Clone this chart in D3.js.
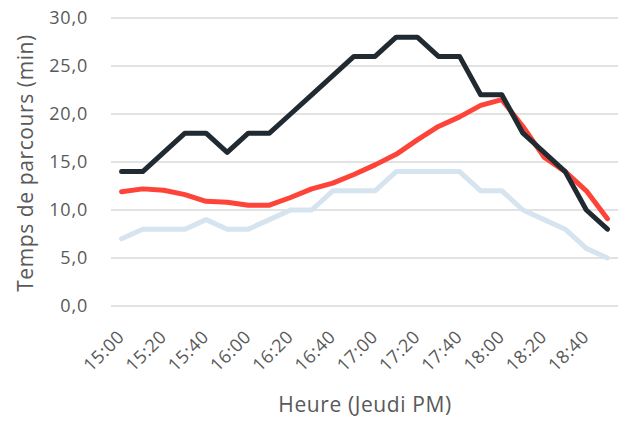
<!DOCTYPE html>
<html>
<head>
<meta charset="utf-8">
<script src="https://cdn.jsdelivr.net/npm/d3@7/dist/d3.min.js"></script>
<style>
  html, body { margin: 0; padding: 0; background: #fff; }
  svg { display: block; }
  text { font-family: "Open Sans", sans-serif; fill: #595959; }
</style>
</head>
<body>
<svg id="chart" width="624" height="425"></svg>
<script>
// ---- data ----
const categories = ["15:00","15:10","15:20","15:30","15:40","15:50","16:00","16:10","16:20","16:30","16:40","16:50",
                    "17:00","17:10","17:20","17:30","17:40","17:50","18:00","18:10","18:20","18:30","18:40","18:50"];
const seriesDark  = [14,14,16,18,18,16,18,18,20,22,24,26,26,28,28,26,26,22,22,18,16,14,10,8];
const seriesRed   = [11.9,12.2,12.05,11.6,10.9,10.8,10.5,10.5,11.3,12.2,12.8,13.7,14.7,15.8,17.3,18.7,19.7,20.9,21.5,18.7,15.5,14.0,12.0,9.1];
const seriesLight = [7,8,8,8,9,8,8,9,10,10,12,12,12,14,14,14,14,12,12,10,9,8,6,5];
const yTicks = [0,5,10,15,20,25,30];
const xTickLabels = ["15:00","15:20","15:40","16:00","16:20","16:40","17:00","17:20","17:40","18:00","18:20","18:40"];
const yTitle = "Temps de parcours (min)";
const xTitle = "Heure (Jeudi PM)";

// ---- layout ----
const svg = d3.select("#chart");
const plot = { left: 111, right: 618, top: 18, bottom: 306 };

const x = d3.scaleBand().domain(categories).range([plot.left, plot.right]);
const y = d3.scaleLinear().domain([0, 30]).range([plot.bottom, plot.top]);
const cx = d => x(d) + x.bandwidth() / 2;

// gridlines
svg.append("g").selectAll("line").data(yTicks).join("line")
  .attr("x1", plot.left).attr("x2", plot.right)
  .attr("y1", d => y(d)).attr("y2", d => y(d))
  .attr("stroke", "#d9d9d9").attr("stroke-width", 1.3);

// y axis labels
const fmt = d => d3.format(".1f")(d).replace(".", ",");
svg.append("g").selectAll("text").data(yTicks).join("text")
  .attr("x", 88).attr("y", d => y(d))
  .attr("dy", "0.35em")
  .attr("text-anchor", "end")
  .style("font-size", "18px")
  .style("letter-spacing", "0.8px")
  .text(fmt);

// x axis labels
svg.append("g").selectAll("text").data(xTickLabels).join("text")
  .attr("text-anchor", "end")
  .style("font-size", "18px")
  .style("letter-spacing", "0.6px")
  .attr("transform", d => `translate(${cx(d) + 4},${plot.bottom + 32}) rotate(-45)`)
  .text(d => d);

// axis titles
svg.append("text")
  .attr("x", 365).attr("y", 412)
  .attr("text-anchor", "middle")
  .style("font-size", "21px")
  .style("letter-spacing", "0.6px")
  .text(xTitle);

svg.append("text")
  .attr("transform", `translate(33,${163}) rotate(-90)`)
  .attr("text-anchor", "middle")
  .style("font-size", "21px")
  .style("letter-spacing", "0.6px")
  .text(yTitle);

// lines
const line = d3.line().x((d, i) => cx(categories[i])).y(d => y(d));
const series = [
  { values: seriesLight, color: "#d6e4ef" },
  { values: seriesRed,   color: "#fe4438" },
  { values: seriesDark,  color: "#212a30" }
];
svg.append("g").selectAll("path").data(series).join("path")
  .attr("d", d => line(d.values))
  .attr("fill", "none")
  .attr("stroke", d => d.color)
  .attr("stroke-width", 5)
  .attr("stroke-linejoin", "round")
  .attr("stroke-linecap", "round");
</script>
</body>
</html>
